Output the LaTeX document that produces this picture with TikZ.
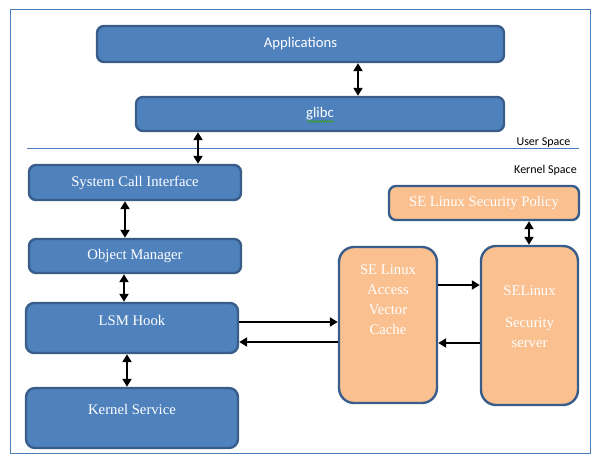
\documentclass[tikz,border=0pt]{standalone}
\usepackage{fontspec}
\setmainfont{Liberation Serif}
\newfontfamily\calib{Carlito}
\usetikzlibrary{arrows.meta,decorations.pathmorphing}
\definecolor{bfill}{HTML}{4F81BD}
\definecolor{bdraw}{HTML}{385D8A}
\definecolor{ofill}{HTML}{FAC090}
\definecolor{lineblue}{HTML}{4A7EBB}
\definecolor{spell}{HTML}{3C9A3C}
\begin{document}
\begin{tikzpicture}[x=1pt,y=-1pt,
  bbox/.style={draw=bdraw,fill=bfill,line width=2.4pt,rounded corners=7pt,inner sep=0pt,text=white,font=\rmfamily\fontsize{14.7}{20}\selectfont},
  obox/.style={draw=bdraw,fill=ofill,line width=2.4pt,rounded corners=7pt,inner sep=0pt,text=white,font=\rmfamily\fontsize{14.7}{20}\selectfont},
  sansbox/.style={font=\calib\fontsize{14.7}{18}\selectfont},
  txt/.style={inner sep=0pt,text=white,align=center,font=\rmfamily\fontsize{14.7}{20}\selectfont},
  arr/.style={line width=2.8pt,-{Triangle[length=8pt,width=9pt]}},
  darr/.style={line width=2.8pt,{Triangle[length=8pt,width=9pt]}-{Triangle[length=8pt,width=9pt]}},
  lbl/.style={inner sep=0pt,font=\calib\fontsize{12}{14}\selectfont}
]
\useasboundingbox (0,0) rectangle (598,465);
\draw[lineblue,line width=1pt] (10,9.5) rectangle (590,454);

% user space
\node[bbox,sansbox,minimum width=407,minimum height=36] (app) at (300.5,44) {Applications};
\node[bbox,sansbox,minimum width=368,minimum height=34] (glibc) at (320,114) {glibc};
\draw[spell,line width=0.9pt,decorate,decoration={snake,segment length=2.5pt,amplitude=0.8pt}] (307,121.5) -- (334,121.5);

\draw[lineblue,line width=1pt] (27,148.5) -- (579,148.5);
\node[lbl] (us) at (543.5,142.5) {User Space};
\node[lbl] (ks) at (545.5,170) {Kernel Space};

% kernel left column
\node[bbox,minimum width=212,minimum height=35] (sci) at (135,182.5) {System Call Interface};
\node[bbox,minimum width=212,minimum height=34] (om) at (135,256) {Object Manager};
\node[bbox,minimum width=212,minimum height=50,rounded corners=8pt] (lsm) at (132,328) {};
\node[txt] (lsmt) at (132,320) {LSM Hook};
\node[bbox,minimum width=212,minimum height=60,rounded corners=9pt] (kse) at (132,418) {};
\node[txt] (kset) at (132,409) {Kernel Service};

% SELinux side
\node[obox,minimum width=190,minimum height=34] (pol) at (484,203) {SE Linux Security Policy};
\node[obox,minimum width=98,minimum height=156,rounded corners=15pt] (avc) at (388,325) {};
\node[txt] (avct) at (388,299.5) {SE Linux\\Access\\Vector\\Cache};
\node[obox,minimum width=97,minimum height=159,rounded corners=15pt] (srv) at (529.5,325.5) {};
\node[txt,anchor=north] (srvt) at (529.5,285.5) {SELinux\\[12pt]Security\\server};

% connectors
\draw[darr] (app.south -| 358,0) -- (glibc.north -| 358,0);
\draw[darr] (glibc.south -| 198,0) -- (sci.north -| 198,0);
\draw[darr] (sci.south -| 125,0) -- (om.north -| 125,0);
\draw[darr] (om.south -| 124,0) -- (lsm.north -| 124,0);
\draw[darr] (lsm.south -| 127,0) -- (kse.north -| 127,0);
\draw[darr] (pol.south -| 529,0) -- (srv.north -| 529,0);
\draw[arr] (lsm.east |- 0,322) -- (avc.west |- 0,322);
\draw[arr] (avc.west |- 0,342) -- (lsm.east |- 0,342);
\draw[arr] (avc.east |- 0,285) -- (srv.west |- 0,285);
\draw[arr] (srv.west |- 0,343) -- (avc.east |- 0,343);
\end{tikzpicture}
\end{document}
